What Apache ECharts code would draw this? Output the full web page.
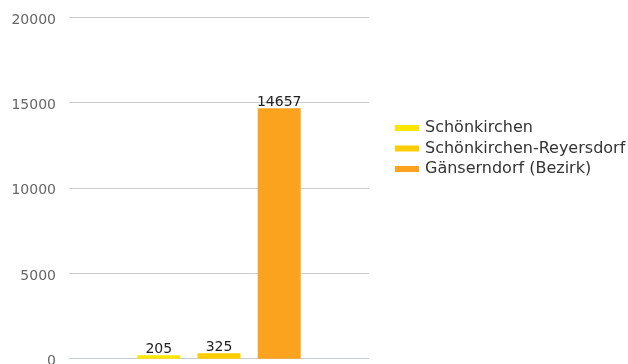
<!DOCTYPE html>
<html>
<head>
<meta charset="utf-8">
<script src="https://cdn.jsdelivr.net/npm/echarts@6/dist/echarts.min.js"></script>
<style>
  html, body { margin: 0; padding: 0; background: #fff; }
  #chart { width: 628px; height: 364px; }
</style>
</head>
<body>
<div id="chart"></div>
<script>
// Population figures per area
const seriesNames = ['Schönkirchen', 'Schönkirchen-Reyersdorf', 'Gänserndorf (Bezirk)'];
const seriesValues = [205, 325, 14657];
const seriesColors = ['#FFE600', '#FFCC00', '#FBA21F'];
const yTicks = [0, 5000, 10000, 15000, 20000];

const chart = echarts.init(document.getElementById('chart'), null, { renderer: 'canvas' });

const series = seriesNames.map((name, i) => ({
  name: name,
  type: 'bar',
  data: [seriesValues[i]],
  barWidth: 43,
  barGap: '40%',
  itemStyle: { color: seriesColors[i] },
  label: {
    show: true,
    position: 'top',
    distance: 1,
    offset: [0, 2],
    color: '#222',
    fontFamily: 'DejaVu Sans',
    fontSize: 14
  }
}));

chart.setOption({
  animation: false,
  textStyle: { fontFamily: 'DejaVu Sans' },
  grid: {
    left: 69, right: 259, top: 17, bottom: 5.3,
    containLabel: false,
    outerBoundsMode: 'none'
  },
  legend: {
    orient: 'vertical',
    left: 395,
    top: 120,
    padding: 0,
    itemWidth: 24,
    itemHeight: 6,
    itemGap: 4.5,
    icon: 'rect',
    textStyle: { color: '#333', fontSize: 16, fontFamily: 'DejaVu Sans', padding: [0, 0, 0, 1] },
    data: seriesNames
  },
  xAxis: {
    type: 'category',
    data: [''],
    axisLine: { show: true, lineStyle: { color: '#C8CCD6', width: 1 } },
    axisTick: { show: false },
    axisLabel: { show: false }
  },
  yAxis: {
    type: 'value',
    min: yTicks[0],
    max: yTicks[yTicks.length - 1],
    interval: 5000,
    axisLine: { show: false },
    axisTick: { show: false },
    axisLabel: {
      color: '#666',
      fontSize: 14,
      margin: 13,
      fontFamily: 'DejaVu Sans',
      formatter: (v) => '{t|' + v + '}',
      rich: {
        t: { color: '#666', fontSize: 14, fontFamily: 'DejaVu Sans', padding: [6, 0, 0, 0] }
      }
    },
    splitLine: { lineStyle: { color: '#CCCCCC', width: 1 } }
  },
  series: series
});
</script>
</body>
</html>
